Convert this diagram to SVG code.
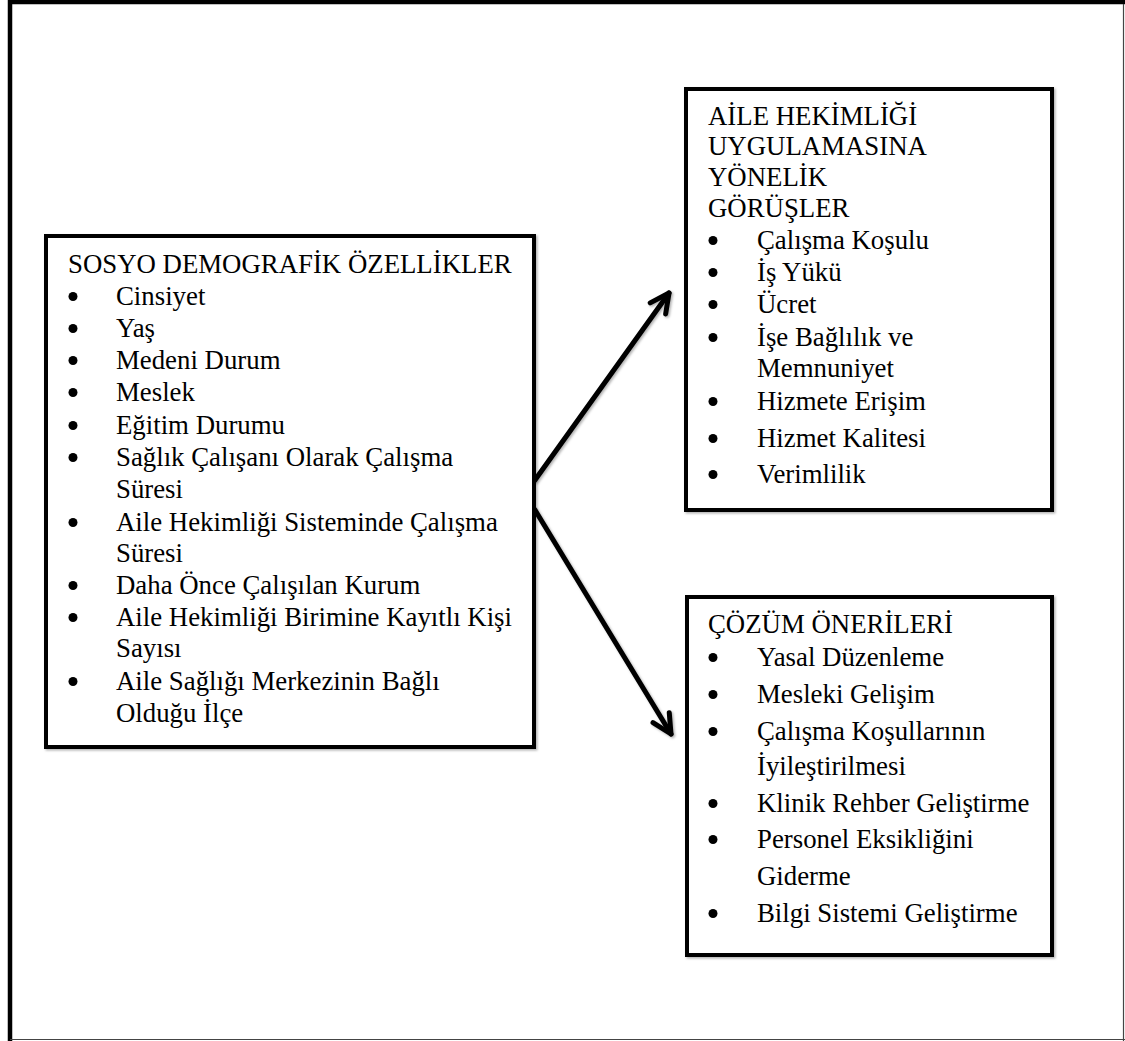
<svg xmlns="http://www.w3.org/2000/svg" width="1125" height="1041" viewBox="0 0 1125 1041">
<style>
text{font-family:"Liberation Serif","Times New Roman",serif;font-size:26.8px;fill:#000}
.box{fill:#fff;stroke:#000;stroke-width:4;filter:url(#sh)}
.bul{fill:#000}
.conn{stroke:#000;stroke-width:5;fill:none;stroke-linecap:round;marker-end:url(#ah);filter:url(#sh)}
</style>
<defs>
<filter id="sh" x="-10%" y="-10%" width="120%" height="120%">
<feDropShadow dx="1.5" dy="1.5" stdDeviation="1" flood-color="#000" flood-opacity="0.3"/>
</filter>
<marker id="ah" viewBox="-26 -14 30 28" refX="0" refY="0" markerWidth="30" markerHeight="28" markerUnits="userSpaceOnUse" orient="auto">
<path d="M-19,-9.5 L0,0 L-19,9.5" fill="none" stroke="#000" stroke-width="5" stroke-linecap="round" stroke-linejoin="round"/>
</marker>
</defs>
<rect x="0" y="0" width="1125" height="1041" fill="#fff"/>
<g id="frame">
<line x1="10" y1="2" x2="1125" y2="2" stroke="#000" stroke-width="4.5"/>
<line x1="10" y1="0" x2="10" y2="1041" stroke="#000" stroke-width="4.5"/>
<line x1="1123.5" y1="4" x2="1123.5" y2="1041" stroke="#444" stroke-width="1.2"/>
<line x1="10" y1="1039.5" x2="1125" y2="1039.5" stroke="#444" stroke-width="1.2"/>
</g>
<g id="connectors">
<line class="conn" x1="535" y1="480" x2="669" y2="293"/>
<line class="conn" x1="535" y1="510" x2="671" y2="734"/>
</g>
<g id="sosyo">
<rect class="box" x="46" y="236" width="488" height="511"/>
<text x="68" y="273">SOSYO DEMOGRAFİK ÖZELLİKLER</text>
<circle class="bul" cx="73" cy="296.5" r="4.5"/><text x="116" y="305">Cinsiyet</text>
<circle class="bul" cx="73" cy="328.5" r="4.5"/><text x="116" y="337">Yaş</text>
<circle class="bul" cx="73" cy="360.5" r="4.5"/><text x="116" y="369">Medeni Durum</text>
<circle class="bul" cx="73" cy="392.5" r="4.5"/><text x="116" y="401">Meslek</text>
<circle class="bul" cx="73" cy="425.5" r="4.5"/><text x="116" y="434">Eğitim Durumu</text>
<circle class="bul" cx="73" cy="457.5" r="4.5"/><text x="116" y="466">Sağlık Çalışanı Olarak Çalışma</text>
<text x="116" y="498">Süresi</text>
<circle class="bul" cx="73" cy="522.5" r="4.5"/><text x="116" y="531">Aile Hekimliği Sisteminde Çalışma</text>
<text x="116" y="562">Süresi</text>
<circle class="bul" cx="73" cy="585.5" r="4.5"/><text x="116" y="594">Daha Önce Çalışılan Kurum</text>
<circle class="bul" cx="73" cy="617.5" r="4.5"/><text x="116" y="626">Aile Hekimliği Birimine Kayıtlı Kişi</text>
<text x="116" y="657">Sayısı</text>
<circle class="bul" cx="73" cy="681.5" r="4.5"/><text x="116" y="690">Aile Sağlığı Merkezinin Bağlı</text>
<text x="116" y="722">Olduğu İlçe</text>
</g>
<g id="gorusler">
<rect class="box" x="686" y="89" width="366" height="421"/>
<text x="708" y="125">AİLE HEKİMLİĞİ</text>
<text x="708" y="155">UYGULAMASINA</text>
<text x="708" y="186">YÖNELİK</text>
<text x="708" y="217">GÖRÜŞLER</text>
<circle class="bul" cx="713" cy="240.5" r="4.5"/><text x="757" y="249">Çalışma Koşulu</text>
<circle class="bul" cx="713" cy="272.5" r="4.5"/><text x="757" y="281">İş Yükü</text>
<circle class="bul" cx="713" cy="304.5" r="4.5"/><text x="757" y="313">Ücret</text>
<circle class="bul" cx="713" cy="337.5" r="4.5"/><text x="757" y="346">İşe Bağlılık ve</text>
<text x="757" y="377">Memnuniyet</text>
<circle class="bul" cx="713" cy="401.5" r="4.5"/><text x="757" y="410">Hizmete Erişim</text>
<circle class="bul" cx="713" cy="438.5" r="4.5"/><text x="757" y="447">Hizmet Kalitesi</text>
<circle class="bul" cx="713" cy="474.5" r="4.5"/><text x="757" y="483">Verimlilik</text>
</g>
<g id="oneriler">
<rect class="box" x="687" y="597" width="365" height="358"/>
<text x="708" y="633">ÇÖZÜM ÖNERİLERİ</text>
<circle class="bul" cx="713" cy="657.5" r="4.5"/><text x="757" y="666">Yasal Düzenleme</text>
<circle class="bul" cx="713" cy="694.5" r="4.5"/><text x="757" y="703">Mesleki Gelişim</text>
<circle class="bul" cx="713" cy="731.5" r="4.5"/><text x="757" y="740">Çalışma Koşullarının</text>
<text x="757" y="775">İyileştirilmesi</text>
<circle class="bul" cx="713" cy="803.5" r="4.5"/><text x="757" y="812">Klinik Rehber Geliştirme</text>
<circle class="bul" cx="713" cy="839.5" r="4.5"/><text x="757" y="848">Personel Eksikliğini</text>
<text x="757" y="885">Giderme</text>
<circle class="bul" cx="713" cy="913.5" r="4.5"/><text x="757" y="922">Bilgi Sistemi Geliştirme</text>
</g>
</svg>
